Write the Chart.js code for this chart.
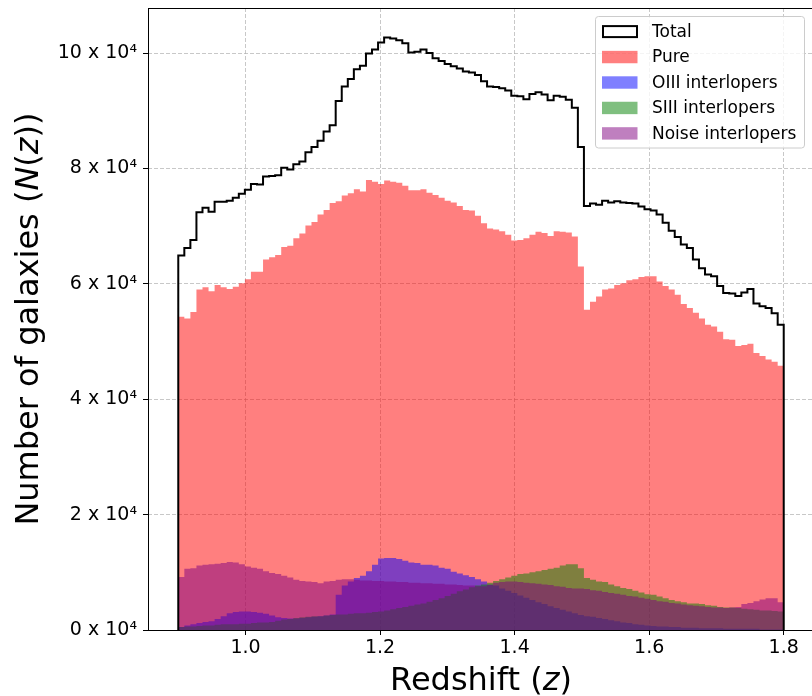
<!DOCTYPE html>
<html><head><meta charset="utf-8">
<script src="https://cdn.jsdelivr.net/npm/chart.js@4.4.0/dist/chart.umd.min.js"></script>
<style>
html,body{margin:0;padding:0;background:#fff;overflow:hidden;width:812px;height:696px;}
#wrap{position:absolute;left:0;top:0;width:830px;height:696px;}
</style></head><body>
<div id="wrap"><canvas id="c" width="830" height="696"></canvas></div>
<script>
// Histogram: 100 bins from z = 0.9 to 1.8 ; counts in units of 10^4 galaxies
const binStart = 0.9, binEnd = 1.8, nBins = 100;
const seriesLabels = ["Total", "Pure", "OIII interlopers", "SIII interlopers", "Noise interlopers"];
const totalCounts = [6.49,6.62,6.76,7.24,7.32,7.25,7.42,7.42,7.44,7.49,7.56,7.63,7.73,7.72,7.86,7.87,7.88,8.01,7.98,8.07,
 8.12,8.28,8.37,8.48,8.64,8.75,9.17,9.42,9.55,9.72,9.78,9.99,10.06,10.18,10.27,10.25,10.22,10.17,10.01,10.02,
 10.06,10.00,9.91,9.86,9.81,9.77,9.73,9.68,9.66,9.62,9.51,9.42,9.41,9.39,9.35,9.26,9.25,9.20,9.29,9.32,
 9.28,9.18,9.26,9.24,9.19,9.05,8.37,7.35,7.39,7.37,7.44,7.41,7.43,7.41,7.40,7.39,7.34,7.29,7.27,7.20,
 7.06,6.92,6.81,6.68,6.62,6.42,6.27,6.16,6.13,5.96,5.84,5.83,5.79,5.85,5.91,5.66,5.61,5.58,5.49,5.29];
const pureCounts = [5.43,5.40,5.51,5.90,5.94,5.87,5.98,5.94,5.91,5.95,6.01,6.08,6.21,6.21,6.42,6.46,6.50,6.64,6.66,6.79,
 6.87,7.01,7.07,7.20,7.28,7.40,7.43,7.53,7.57,7.64,7.60,7.80,7.77,7.73,7.79,7.77,7.75,7.70,7.62,7.62,
 7.64,7.58,7.54,7.49,7.44,7.41,7.35,7.28,7.27,7.18,7.05,6.96,6.94,6.91,6.85,6.75,6.76,6.79,6.85,6.90,
 6.88,6.83,6.91,6.90,6.89,6.82,6.30,5.55,5.69,5.78,5.90,5.92,5.98,6.01,6.06,6.08,6.12,6.13,6.13,6.04,
 5.96,5.90,5.81,5.65,5.58,5.50,5.40,5.29,5.26,5.17,5.04,5.03,4.92,4.94,4.96,4.80,4.75,4.69,4.65,4.58];
const oiiiCounts = [0.05,0.08,0.10,0.12,0.14,0.15,0.19,0.24,0.29,0.31,0.32,0.32,0.31,0.30,0.28,0.25,0.22,0.21,0.20,0.20,
 0.21,0.22,0.23,0.24,0.25,0.27,0.61,0.77,0.84,0.90,0.94,1.02,1.13,1.24,1.25,1.25,1.23,1.20,1.17,1.16,
 1.13,1.13,1.12,1.08,1.06,1.01,0.98,0.95,0.92,0.88,0.84,0.79,0.77,0.72,0.68,0.64,0.60,0.56,0.52,0.48,
 0.45,0.41,0.38,0.35,0.32,0.29,0.26,0.24,0.23,0.21,0.19,0.17,0.15,0.13,0.12,0.10,0.09,0.08,0.07,0.06,
 0.06,0.05,0.05,0.04,0.04,0.04,0.03,0.03,0.03,0.03,0.02,0.02,0.02,0.02,0.02,0.02,0.01,0.01,0.01,0.01];
const siiiCounts = [0.05,0.06,0.06,0.07,0.08,0.08,0.09,0.10,0.10,0.10,0.11,0.11,0.12,0.13,0.13,0.14,0.16,0.18,0.19,0.21,
 0.22,0.23,0.24,0.24,0.25,0.26,0.27,0.27,0.28,0.29,0.29,0.30,0.31,0.32,0.34,0.36,0.38,0.40,0.42,0.44,
 0.46,0.49,0.52,0.55,0.59,0.63,0.67,0.70,0.74,0.77,0.79,0.82,0.85,0.88,0.91,0.94,0.97,0.98,1.00,1.02,
 1.04,1.06,1.08,1.12,1.14,1.14,1.07,0.90,0.87,0.84,0.83,0.79,0.76,0.73,0.71,0.68,0.65,0.62,0.61,0.58,
 0.55,0.52,0.50,0.48,0.46,0.46,0.45,0.43,0.42,0.40,0.39,0.39,0.38,0.37,0.36,0.35,0.34,0.34,0.33,0.32];
const noiseCounts = [0.92,1.06,1.07,1.12,1.13,1.14,1.15,1.16,1.18,1.17,1.14,1.10,1.08,1.06,1.02,0.99,0.97,0.94,0.91,0.87,
 0.85,0.84,0.83,0.81,0.84,0.85,0.87,0.88,0.88,0.87,0.86,0.86,0.85,0.85,0.84,0.84,0.83,0.83,0.82,0.82,
 0.81,0.81,0.80,0.80,0.79,0.79,0.78,0.77,0.77,0.76,0.76,0.78,0.82,0.83,0.84,0.84,0.83,0.82,0.81,0.80,
 0.79,0.78,0.76,0.75,0.73,0.72,0.72,0.71,0.69,0.68,0.66,0.64,0.63,0.61,0.59,0.58,0.56,0.54,0.52,0.50,
 0.49,0.47,0.46,0.44,0.43,0.42,0.41,0.40,0.39,0.39,0.38,0.39,0.40,0.45,0.47,0.50,0.53,0.55,0.55,0.48];
const xTicks = [1.0, 1.2, 1.4, 1.6, 1.8];
const yTicks = [0, 2, 4, 6, 8, 10];

const edges = [];
for (let i = 0; i <= nBins; i++) edges.push(binStart + (binEnd - binStart) * i / nBins);

function filledSteps(vals) {
  const pts = vals.map((v, i) => ({x: edges[i], y: v}));
  pts.push({x: edges[nBins], y: vals[nBins - 1]});
  return pts;
}
function outlineSteps(vals) {
  const pts = [{x: edges[0], y: 0}];
  vals.forEach((v, i) => pts.push({x: edges[i], y: v}));
  pts.push({x: edges[nBins], y: vals[nBins - 1]});
  pts.push({x: edges[nBins], y: 0});
  return pts;
}

const fills = {
  pure: 'rgba(255,0,0,0.5)', oiii: 'rgba(0,0,255,0.5)',
  siii: 'rgba(0,128,0,0.5)', noise: 'rgba(128,0,128,0.5)'
};
const FONT = "'DejaVu Sans', sans-serif";

function filledDs(label, vals, color, order) {
  return {label, data: filledSteps(vals), stepped: true, fill: 'origin',
    backgroundColor: color, borderColor: 'rgba(0,0,0,0)', borderWidth: 0,
    pointRadius: 0, order};
}

const decorPlugin = {
  id: 'decor',
  afterDraw(chart) {
    const ctx = chart.ctx, a = chart.chartArea;
    ctx.save();
    // spines
    ctx.strokeStyle = '#000'; ctx.lineWidth = 1; ctx.setLineDash([]);
    ctx.strokeRect(a.left + 0.5, a.top + 0.5, a.right - a.left, a.bottom - a.top);
    // axis titles with italic parts
    function drawRich(parts, size) {
      let w = 0;
      parts.forEach(p => { ctx.font = (p.i ? 'italic ' : '') + size + 'px ' + FONT; p.w = ctx.measureText(p.t).width; w += p.w; });
      let x = -w / 2;
      parts.forEach(p => { ctx.font = (p.i ? 'italic ' : '') + size + 'px ' + FONT; ctx.fillText(p.t, x, 0); x += p.w; });
    }
    ctx.fillStyle = '#000'; ctx.textAlign = 'left'; ctx.textBaseline = 'alphabetic';
    ctx.save();
    ctx.translate((a.left + a.right) / 2, 690);
    drawRich([{t: 'Redshift ('}, {t: 'z', i: true}, {t: ')'}], 32);
    ctx.restore();
    ctx.save();
    ctx.translate(38, (a.top + a.bottom) / 2);
    ctx.rotate(-Math.PI / 2);
    drawRich([{t: 'Number of galaxies ('}, {t: 'N', i: true}, {t: '('}, {t: 'z', i: true}, {t: '))'}], 32);
    ctx.restore();
    // legend
    const bx = 595.5, by = 16.5, bw = 209, bh = 131.5, r = 3;
    ctx.beginPath();
    ctx.moveTo(bx + r, by); ctx.lineTo(bx + bw - r, by); ctx.arcTo(bx + bw, by, bx + bw, by + r, r);
    ctx.lineTo(bx + bw, by + bh - r); ctx.arcTo(bx + bw, by + bh, bx + bw - r, by + bh, r);
    ctx.lineTo(bx + r, by + bh); ctx.arcTo(bx, by + bh, bx, by + bh - r, r);
    ctx.lineTo(bx, by + r); ctx.arcTo(bx, by, bx + r, by, r); ctx.closePath();
    ctx.fillStyle = 'rgba(255,255,255,0.8)'; ctx.fill();
    ctx.strokeStyle = '#cccccc'; ctx.lineWidth = 1; ctx.stroke();
    const legColors = [null, fills.pure, fills.oiii, fills.siii, fills.noise];
    ctx.font = '17px ' + FONT; ctx.textBaseline = 'middle'; ctx.textAlign = 'left';
    seriesLabels.forEach((lab, k) => {
      const cy = 31.6 + k * 25.45;
      if (k === 0) {
        ctx.strokeStyle = '#000'; ctx.lineWidth = 2;
        ctx.strokeRect(603, cy - 5.5, 34, 11);
      } else {
        ctx.fillStyle = legColors[k];
        ctx.fillRect(602, cy - 6.2, 35.5, 12.4);
      }
      ctx.fillStyle = '#000';
      ctx.fillText(lab, 652, cy + 1);
    });
    ctx.restore();
  }
};

new Chart(document.getElementById('c'), {
  type: 'line',
  data: {
    datasets: [
      {label: seriesLabels[0], data: outlineSteps(totalCounts), stepped: true, fill: false,
        borderColor: '#000', borderWidth: 2, pointRadius: 0, order: 0},
      filledDs(seriesLabels[1], pureCounts, fills.pure, 4),
      filledDs(seriesLabels[2], oiiiCounts, fills.oiii, 3),
      filledDs(seriesLabels[3], siiiCounts, fills.siii, 2),
      filledDs(seriesLabels[4], noiseCounts, fills.noise, 1)
    ]
  },
  options: {
    responsive: false, animation: false, devicePixelRatio: 1, events: [],
    layout: {padding: {left: 0, top: 8, right: 16, bottom: 0}},
    plugins: {legend: {display: false}, tooltip: {enabled: false}},
    scales: {
      x: {
        type: 'linear', min: 0.855, max: 1.845, z: 1,
        afterFit(s) { s.height = 66; s.paddingLeft = 0; s.paddingRight = 0; s.paddingTop = 0; s.paddingBottom = 0; },
        afterBuildTicks(s) { s.ticks = xTicks.map(v => ({value: v})); },
        grid: {color: 'rgba(176,176,176,0.7)', lineWidth: 1, tickColor: '#000', tickLength: 5, tickWidth: 1},
        border: {display: false, dash: [4, 2]},
        ticks: {font: {family: FONT, size: 19}, color: '#000', padding: 2, maxRotation: 0,
          callback: v => v.toFixed(1)}
      },
      y: {
        type: 'linear', min: 0, max: 10.78, z: 1,
        afterFit(s) { s.width = 148; s.paddingLeft = 0; s.paddingRight = 0; s.paddingTop = 0; s.paddingBottom = 0; },
        afterBuildTicks(s) { s.ticks = yTicks.map(v => ({value: v})); },
        grid: {color: 'rgba(176,176,176,0.7)', lineWidth: 1, tickColor: '#000', tickLength: 5, tickWidth: 1},
        border: {display: false, dash: [4, 2]},
        ticks: {font: {family: FONT, size: 19}, color: '#000', padding: 6,
          callback: v => v + ' x 10\u2074'}
      }
    }
  },
  plugins: [decorPlugin]
});
</script>
</body></html>
